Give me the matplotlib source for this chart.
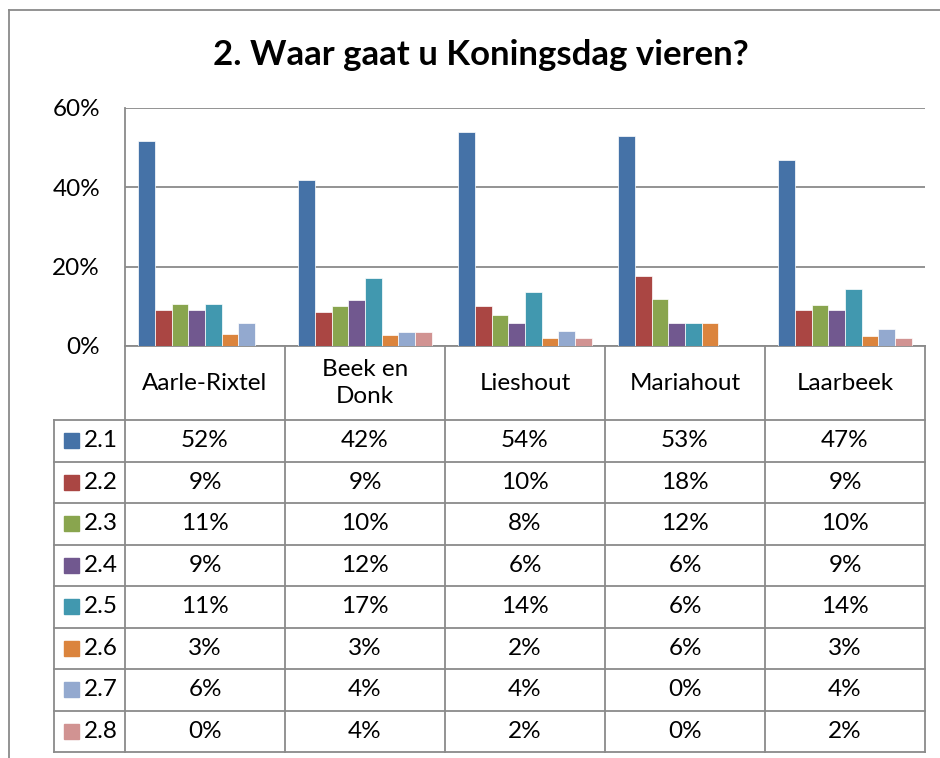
import matplotlib
matplotlib.use("Agg")
import matplotlib.pyplot as plt
import numpy as np
from matplotlib.patches import Rectangle

plt.rcParams['font.family'] = ['Lato', 'DejaVu Sans']

title = "2. Waar gaat u Koningsdag vieren?"
categories = ["Aarle-Rixtel", "Beek en\nDonk", "Lieshout", "Mariahout", "Laarbeek"]
series_names = ["2.1", "2.2", "2.3", "2.4", "2.5", "2.6", "2.7", "2.8"]
s21 = [51.6, 41.8, 53.9, 52.9, 46.9]
s22 = [9.0, 8.6, 10.0, 17.6, 9.2]
s23 = [10.6, 10.0, 7.8, 11.8, 10.3]
s24 = [9.0, 11.5, 5.9, 5.9, 9.2]
s25 = [10.6, 17.2, 13.7, 5.9, 14.3]
s26 = [3.0, 2.7, 2.0, 5.9, 2.6]
s27 = [5.9, 3.5, 3.9, 0.0, 4.2]
s28 = [0.0, 3.5, 2.0, 0.0, 1.9]
series = [s21, s22, s23, s24, s25, s26, s27, s28]
colors = ["#4572A7", "#AA4643", "#89A54E", "#71588F", "#4198AF", "#DB843D", "#93A9CF", "#D19392"]
yticks = [0, 20, 40, 60]

W, H = 940, 758
fig = plt.figure(figsize=(W / 100, H / 100), dpi=100)

def fr(x0, y0, x1, y1):
    return [x0 / W, 1 - y1 / H, (x1 - x0) / W, (y1 - y0) / H]

GRID = "#8a8a8a"
LW = 1.3
FS = 17.5
plot_l, plot_t, plot_r, plot_b = 125, 108, 925, 346
ax = fig.add_axes(fr(plot_l, plot_t, plot_r, plot_b))
n = len(categories)
ns = len(series)
bw = 0.104
x = np.arange(n)
for i, (vals, c) in enumerate(zip(series, colors)):
    ax.bar(x + (i - (ns - 1) / 2) * bw, vals, bw, color=c,
           edgecolor="white", linewidth=0.5, zorder=3)
ax.set_xlim(-0.5, n - 0.5)
ax.set_ylim(0, 60)
ax.set_yticks(yticks)
ax.set_yticklabels([f"{t}%" for t in yticks])
ax.set_xticks([])
ax.yaxis.grid(True, color=GRID, linewidth=LW, zorder=0)
ax.set_axisbelow(True)
for s in ["top", "right"]:
    ax.spines[s].set_visible(False)
for s in ["left", "bottom"]:
    ax.spines[s].set_color(GRID)
    ax.spines[s].set_linewidth(LW)
ax.tick_params(axis="y", length=0, labelsize=FS, pad=18)

# overlay in pixel coordinates for the data table and frame
ov = fig.add_axes([0, 0, 1, 1])
ov.set_xlim(0, W)
ov.set_ylim(H, 0)
ov.axis("off")

# outer chart border
ov.plot([9, 9], [10, H], color=GRID, lw=LW)
ov.plot([9, W], [10, 10], color=GRID, lw=LW)

fig.text(481 / W, 1 - 55 / H, title, ha="center", va="center",
         fontsize=25, fontweight="bold")

# data table
leg_l = 54
hdr_b = 420
tbl_b = 752
colw = (plot_r - plot_l) / n
rowh = (tbl_b - hdr_b) / ns
for k in range(n + 1):
    xx = plot_l + k * colw
    ov.plot([xx, xx], [plot_b, tbl_b], color=GRID, lw=LW)
ov.plot([leg_l, leg_l], [hdr_b, tbl_b], color=GRID, lw=LW)
for r in range(ns + 1):
    yy = hdr_b + r * rowh
    ov.plot([leg_l, plot_r], [yy, yy], color=GRID, lw=LW)

for k, cat in enumerate(categories):
    ov.text(plot_l + (k + 0.5) * colw, (plot_b + hdr_b) / 2, cat,
            ha="center", va="center", fontsize=FS, linespacing=1.35)

for r, (name, vals, c) in enumerate(zip(series_names, series, colors)):
    yc = hdr_b + (r + 0.5) * rowh
    ov.add_patch(Rectangle((64, yc - 7.5), 15, 15, color=c))
    ov.text(84, yc, name, ha="left", va="center", fontsize=FS)
    for k, v in enumerate(vals):
        ov.text(plot_l + (k + 0.5) * colw, yc, f"{int(np.floor(v + 0.5))}%",
                ha="center", va="center", fontsize=FS)

fig.savefig("out.png", dpi=100)
